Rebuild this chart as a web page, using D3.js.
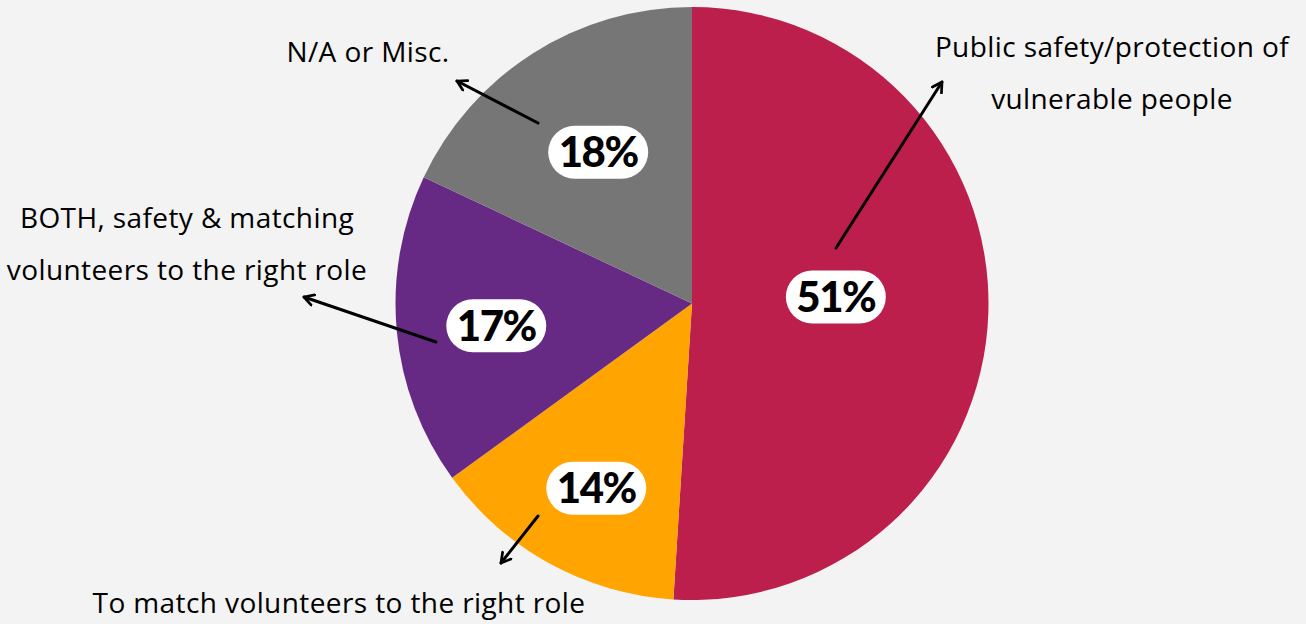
<!DOCTYPE html>
<html>
<head>
<meta charset="utf-8">
<script src="https://cdn.jsdelivr.net/npm/d3@7"></script>
<style>
  html, body { margin: 0; padding: 0; background: #f3f3f3; }
  svg { display: block; }
</style>
</head>
<body>
<div id="chart"></div>
<script>
const width = 1306
const height = 624

// datos
const categories = ['Public safety/protection of vulnerable people', 'To match volunteers to the right role', 'BOTH, safety & matching volunteers to the right role', 'N/A or Misc.']
const values = [51, 14, 17, 18]
const colors = ['#bc1f4b', '#ffa400', '#662a84', '#767676']
const labelLines = [
    ['Public safety/protection of', 'vulnerable people'],
    ['To match volunteers to the right role'],
    ['BOTH, safety & matching', 'volunteers to the right role'],
    ['N/A or Misc.'],
]

// layout de etiquetas (posicion del badge, texto y flecha)
const cx = 692, cy = 303.5, radius = 296.5
const badgeRadius = [144, 208, 197, 178]
const badgeAngle = [87.4, 207.4, 263.5, 328.2] // grados desde las 12
const labelPos = [
    {x: 1112, y: 57, arrow: [[836, 248], [942, 82]]},
    {x: 339, y: 613, arrow: [[538, 516], [501, 563]]},
    {x: 187, y: 228, arrow: [[436, 342], [304, 297]]},
    {x: 368, y: 62, arrow: [[538, 123], [457, 81]]},
]

const svg = d3.select('#chart').append('svg').attr('width', width).attr('height', height)
svg.append('rect').attr('width', width).attr('height', height).attr('fill', '#f3f3f3')

svg.append('defs').append('marker')
    .attr('id', 'arrow')
    .attr('viewBox', '0 0 10 10')
    .attr('refX', 8).attr('refY', 5)
    .attr('markerWidth', 4.5).attr('markerHeight', 4.5)
    .attr('orient', 'auto')
    .append('path')
    .attr('d', 'M1,1 L8,5 L1,9')
    .attr('fill', 'none')
    .attr('stroke', '#000')
    .attr('stroke-width', 2)
    .attr('stroke-linecap', 'round')
    .attr('stroke-linejoin', 'round')

const pie = d3.pie().sort(null).value(d => d)
const arcs = pie(values)
const arc = d3.arc().innerRadius(0).outerRadius(radius)

const pieGroup = svg.append('g').attr('transform', `translate(${cx}, ${cy})`)
pieGroup.selectAll('path').data(arcs).enter()
    .append('path')
    .attr('d', arc)
    .attr('fill', (d, i) => colors[i])

// flechas
svg.selectAll('line.arrow').data(labelPos).enter()
    .append('line')
    .attr('class', 'arrow')
    .attr('x1', d => d.arrow[0][0]).attr('y1', d => d.arrow[0][1])
    .attr('x2', d => d.arrow[1][0]).attr('y2', d => d.arrow[1][1])
    .attr('stroke', '#000')
    .attr('stroke-width', 3)
    .attr('stroke-linecap', 'round')
    .attr('marker-end', 'url(#arrow)')

// badges con porcentaje
const badges = pieGroup.selectAll('g.badge').data(arcs).enter()
    .append('g')
    .attr('class', 'badge')
    .attr('transform', (d, i) => {
        const a = badgeAngle[i] * Math.PI / 180
        return `translate(${badgeRadius[i] * Math.sin(a)}, ${-badgeRadius[i] * Math.cos(a)})`
    })
badges.append('rect')
    .attr('x', -50).attr('y', -26.5)
    .attr('width', 100).attr('height', 53)
    .attr('rx', 26.5)
    .attr('fill', '#fff')
badges.append('text')
    .attr('text-anchor', 'middle')
    .attr('dy', '0.36em')
    .attr('font-family', 'Lato, sans-serif')
    .attr('font-weight', 900)
    .attr('font-size', 42)
    .attr('letter-spacing', -1.5)
    .attr('fill', '#000')
    .text(d => d.value + '%')

// etiquetas de categoria
const labels = svg.selectAll('text.cat').data(labelPos).enter()
    .append('text')
    .attr('class', 'cat')
    .attr('x', d => d.x).attr('y', d => d.y)
    .attr('text-anchor', 'middle')
    .attr('font-family', '"Open Sans", sans-serif')
    .attr('font-size', 28)
    .attr('letter-spacing', 0.4)
    .attr('fill', '#000')
labels.selectAll('tspan').data((d, i) => labelLines[i]).enter()
    .append('tspan')
    .attr('x', function() { return d3.select(this.parentNode).attr('x') })
    .attr('dy', (d, i) => i === 0 ? 0 : 52)
    .text(d => d)
</script>
</body>
</html>
